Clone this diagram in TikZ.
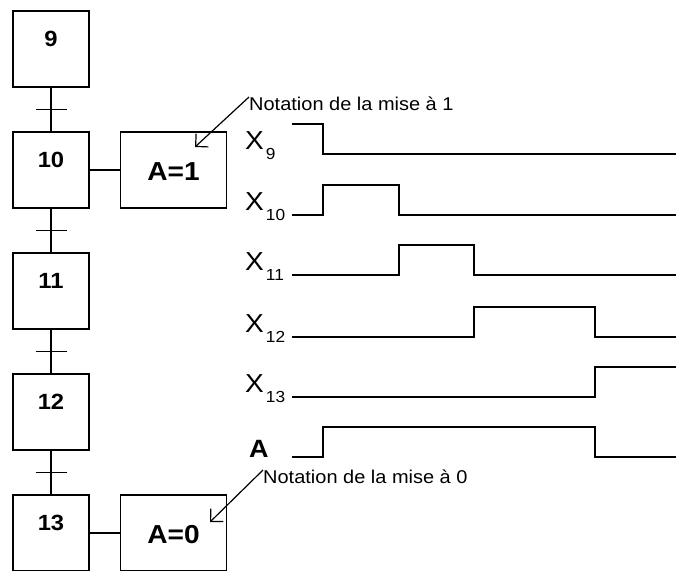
\documentclass[tikz,border=0pt]{standalone}
\usepackage{fontspec}
\setmainfont[FakeStretch=1.08]{Liberation Sans}
\usetikzlibrary{positioning,arrows.meta}

\tikzset{
  etape/.style={draw, line width=1.5pt, minimum width=76pt, inner sep=0pt,
    text height=35pt, text depth=41pt, font=\fontsize{22}{22}\selectfont\bfseries},
  action/.style={draw, line width=1.5pt, minimum width=106pt, inner sep=0pt,
    text height=48pt, text depth=28pt, font=\fontsize{26}{26}\selectfont\bfseries},
  note/.style={anchor=north west, inner sep=0pt, text height=13pt,
    font=\fontsize{18.5}{18.5}\selectfont},
  xlabel/.style={anchor=base west, inner sep=0pt, font=\fontsize{26}{26}\selectfont},
  signal/.style={line width=1.5pt},
  fleche/.style={line width=1.2pt, -{Straight Barb[length=9pt,width=18pt]}},
}
\newcommand{\indice}[1]{\kern2pt\raisebox{-10pt}{\fontsize{16}{16}\selectfont #1}}

\begin{document}
\begin{tikzpicture}[x=1pt,y=-1pt]
  \useasboundingbox (0,0) rectangle (676,570);
    % etapes du grafcet
    \foreach \n [count=\i from 0] in {9,...,13}
    \node[etape] (s\n) at (51,49+121*\i) {\n};
    % liaisons et transitions
    \foreach \a/\b in {9/10,10/11,11/12,12/13} {
    \draw[signal] (s\a) -- (s\b) coordinate[midway] (t\a);
    \draw[signal] ([xshift=-15.5pt]t\a) -- ([xshift=15.5pt]t\a);
    }
    % actions
    \node[action, right=30pt of s10] (a1) {A=1};
    \node[action, right=30pt of s13] (a0) {A=0};
    \draw[signal] (s10) -- (a1);
    \draw[signal] (s13) -- (a0);
    % notes
    \coordinate (p1) at (195,147);
    \coordinate (p0) at (210,522);
    \node[note] (n1) at (249,97) {Notation de la mise à 1};
    \node[note] (n0) at (263,470) {Notation de la mise à 0};
    \draw[fleche] (n1.north west) -- (p1);
    \draw[fleche] (n0.north west) -- (p0);
    % chronogrammes
    \foreach \n/\y in {9/154,10/215,11/275,12/337,13/397}
    \node[xlabel] (x\n) at (245,\y-5) {X\indice{\n}};
    \node[xlabel, font=\fontsize{25}{25}\selectfont\bfseries] (xa) at (249,457) {A};
    \draw[signal] (292,124) -| (323,154) -- (676,154);
    \draw[signal] (292,215) -| (323,185) -| (399,215) -- (676,215);
    \draw[signal] (292,275) -| (399,245) -| (474,275) -- (676,275);
    \draw[signal] (292,337) -| (474,307) -| (595,337) -- (676,337);
    \draw[signal] (292,397) -| (595,367) -- (676,367);
    \draw[signal] (292,457) -| (323,427) -| (595,457) -- (676,457);
\end{tikzpicture}
\end{document}
